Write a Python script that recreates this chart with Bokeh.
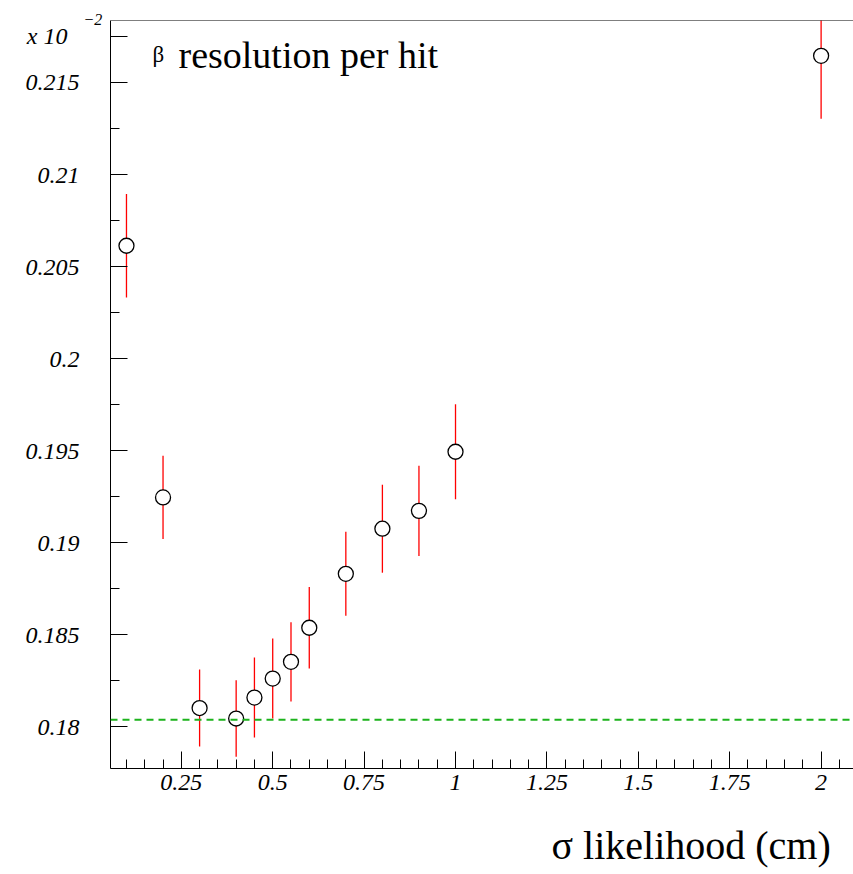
from bokeh.plotting import figure
from bokeh.models import FixedTicker, Span, Label, Title, ColumnDataSource, Range1d
from bokeh.embed import file_html
from bokeh.resources import INLINE

# ---- data ----
sigma = [0.1, 0.2, 0.3, 0.4, 0.45, 0.5, 0.55, 0.6, 0.7, 0.8, 0.9, 1.0, 2.0]
resolution = [0.20613, 0.19246, 0.18102, 0.18045, 0.18159, 0.18262, 0.18353,
              0.18538, 0.18831, 0.19076, 0.19173, 0.19494, 0.21645]
errors = [0.00281, 0.00226, 0.00209, 0.00208, 0.00217, 0.00217, 0.00215,
          0.00221, 0.00228, 0.00239, 0.00245, 0.00258, 0.00342]
min_line = 0.18038

x_tick_values = [0.25, 0.5, 0.75, 1.0, 1.25, 1.5, 1.75, 2.0]
x_tick_labels = ["0.25", "0.5", "0.75", "1", "1.25", "1.5", "1.75", "2"]
x_minor_values = [0.05 * i for i in range(1, 42)]
y_tick_values = [0.18, 0.185, 0.19, 0.195, 0.2, 0.205, 0.21, 0.215]
y_tick_labels = ["0.18", "0.185", "0.19", "0.195", "0.2", "0.205", "0.21", "0.215"]
y_minor_values = [0.1775 + 0.0025 * i for i in range(0, 18)]

# axis scale factor shown at the top of the y axis ("x 10" with exponent)
scale_tick = 0.2175
exp_base = "x 10"
exp_power = "\u22122"

title_symbol = "\u03b2"
title_text = "resolution per hit"
x_title = "\u03c3 likelihood (cm)"

# ---- layout ----
X0, X1 = 0.0563, 2.0886
Y0, Y1 = 0.177735, 0.218367
LEFT, TOP, FW, FH = 110, 20, 743, 748
W, H = 853, 874

def dx(px):
    return X0 + (px - LEFT) * (X1 - X0) / FW

def dy(py):
    return Y0 + (TOP + FH - py) * (Y1 - Y0) / FH

p = figure(width=W, height=H, output_backend="svg", toolbar_location=None,
           x_range=Range1d(X0, X1), y_range=Range1d(Y0, Y1),
           min_border_left=LEFT, min_border_right=0, min_border_top=TOP,
           min_border_bottom=H - TOP - FH)
p.outline_line_color = None
p.grid.visible = False
p.background_fill_color = "white"
p.border_fill_color = "white"

FONT = "Liberation Serif"
for ax in (p.xaxis[0], p.yaxis[0]):
    ax.axis_line_color = "black"
    ax.axis_line_width = 1
    ax.major_tick_in = 17
    ax.major_tick_out = 0
    ax.minor_tick_in = 9
    ax.minor_tick_out = 0
    ax.major_tick_line_color = "black"
    ax.minor_tick_line_color = "black"
    ax.major_label_text_font = FONT
    ax.major_label_text_font_style = "italic"
    ax.major_label_text_font_size = "24px"
    ax.major_label_text_color = "black"

xa = p.xaxis[0]
xa.ticker = FixedTicker(ticks=x_tick_values, minor_ticks=x_minor_values)
xa.major_label_overrides = dict(zip(x_tick_values, x_tick_labels))
xa.major_label_standoff = 6

ya = p.yaxis[0]
ya_ticks = y_tick_values + [scale_tick]
ya_labels = y_tick_labels + [exp_base + "\u00a0\u00a0"]
ya.ticker = FixedTicker(ticks=ya_ticks, minor_ticks=y_minor_values)
ya.major_label_overrides = dict(zip(ya_ticks, ya_labels))
ya.major_label_standoff = 31

# top frame line
p.add_layout(Span(location=Y1, dimension="width", line_color="black", line_width=1))

# minimum dashed line
p.add_layout(Span(location=min_line, dimension="width", line_color="#1db31d",
                  line_width=2, line_dash="7 5"))

src = ColumnDataSource(dict(
    x=sigma, y=resolution,
    lo=[r - e for r, e in zip(resolution, errors)],
    hi=[r + e for r, e in zip(resolution, errors)],
))
p.segment(x0="x", y0="lo", x1="x", y1="hi", source=src, line_color="#ff0000", line_width=1.3)
p.scatter(x="x", y="y", source=src, marker="circle", size=15, fill_color="white",
          line_color="black", line_width=1.3)

# texts inside the frame
p.add_layout(Label(x=dx(152), y=dy(54), text=title_symbol, text_font=FONT, text_color="black",
                   text_font_size="23px", text_baseline="alphabetic", text_align="left"))
p.add_layout(Label(x=dx(178), y=dy(54), text=title_text, text_font=FONT, text_color="black",
                   text_font_size="38px", text_baseline="alphabetic", text_align="left"))

# exponent of the y scale factor (side-panel title, not clipped)
tb = Title(text=exp_power, align="left", offset=-27, standoff=-9, text_font=FONT,
           text_font_size="16px", text_font_style="italic", text_color="black",
           vertical_align="bottom")
p.add_layout(tb, "above")

# x axis title, right part of the bottom panel (blank spacer keeps it low)
spacer = Title(text="\u00a0", standoff=10, text_font=FONT, text_font_size="10px",
               text_color="white")
p.add_layout(spacer, "below")
xt = Title(text=x_title, align="left", offset=441, standoff=10, text_font=FONT,
           text_font_size="40px", text_font_style="normal", text_color="black",
           vertical_align="bottom")
p.add_layout(xt, "below")

open("out.html", "w").write(file_html(p, INLINE))
